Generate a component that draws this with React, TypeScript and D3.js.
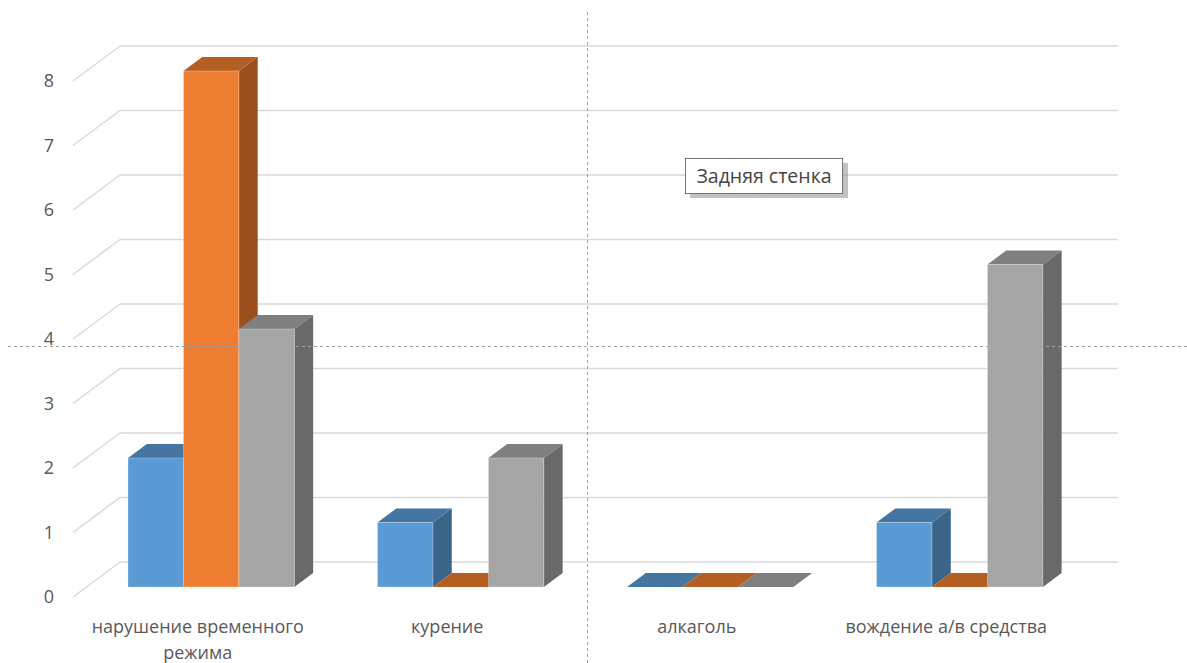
import React from 'react'
import * as d3 from 'd3'

const categories = ['нарушение временного режима', 'курение', 'алкаголь', 'вождение а/в средства']
const labelLines = [['нарушение временного', 'режима'], ['курение'], ['алкаголь'], ['вождение а/в средства']]
const seriesNames = ['s1', 's2', 's3']
const series1 = [2, 1, 0, 1]
const series2 = [8, 0, 0, 0]
const series3 = [4, 2, 0, 5]
const yTicks = [0, 1, 2, 3, 4, 5, 6, 7, 8]

const W = 1187
const H = 663
const depthX = 47
const depthY = 35
const barZ0 = 10 / 35
const barZ1 = 24 / 35
const font = "'Segoe UI', 'Open Sans', 'Noto Sans', sans-serif"

const colors = [
  { front: '#5B9BD5', top: '#4575A1', side: '#3A6488' },
  { front: '#ED7D31', top: '#B55E22', side: '#9A4F1C' },
  { front: '#A5A5A5', top: '#7F7F7F', side: '#696969' },
]

const proj = (x: number, y: number, z: number): [number, number] => [x + z * depthX, y - z * depthY]
const poly = (pts: [number, number][]) => pts.map(p => p.join(',')).join(' ')

export default function App() {
  const values = [series1, series2, series3]
  const x0 = d3.scaleBand<string>().domain(categories).range([73, 1071]).padding(0)
  const bw = x0.bandwidth()
  const gap = (bw * 1.5) / 4.5
  const x1 = d3.scaleBand<string>().domain(seriesNames).range([gap / 2, bw - gap / 2]).padding(0)
  const y = d3.scaleLinear().domain([0, 8]).range([597, 81])

  const bars: JSX.Element[] = []
  categories.forEach((c, ci) => {
    seriesNames.forEach((s, si) => {
      const v = values[si][ci]
      const xl = (x0(c) ?? 0) + (x1(s) ?? 0)
      const xr = xl + x1.bandwidth()
      const yb = y(0)
      const yt = y(v)
      const col = colors[si]
      const key = `${ci}-${si}`
      if (v > 0) {
        bars.push(
          <polygon key={key + 'side'} fill={col.side}
            points={poly([proj(xr, yt, barZ0), proj(xr, yt, barZ1), proj(xr, yb, barZ1), proj(xr, yb, barZ0)])} />
        )
      }
      bars.push(
        <polygon key={key + 'top'} fill={col.top}
          points={poly([proj(xl, yt, barZ0), proj(xl, yt, barZ1), proj(xr, yt, barZ1), proj(xr, yt, barZ0)])} />
      )
      if (v > 0) {
        const [fx, fy] = proj(xl, yt, barZ0)
        const [, fb] = proj(xl, yb, barZ0)
        bars.push(
          <rect key={key + 'front'} x={fx} y={fy} width={xr - xl} height={fb - fy} fill={col.front}
            stroke="#ffffff" strokeOpacity={0.35} strokeWidth={0.8} />
        )
      }
    })
  })

  return (
    <svg width={W} height={H} style={{ position: 'absolute', left: 0, top: 0, background: '#fff' }}>
      <g stroke="#D9D9D9" strokeWidth={1.5} fill="none">
        {yTicks.map(t => {
          const [ax, ay] = proj(73, y(t), 0)
          const [bx, by] = proj(73, y(t), 1)
          return (
            <g key={t}>
              <line x1={ax} y1={ay} x2={bx} y2={by} />
              <line x1={bx} y1={by} x2={1118} y2={by} />
            </g>
          )
        })}
      </g>
      <g fill="#595959" fontFamily={font} fontSize={18} textAnchor="middle">
        {yTicks.map(t => (
          <text key={t} x={49} y={y(t)} dy="0.35em">{t}</text>
        ))}
      </g>
      {bars}
      <g fill="#595959" fontFamily={font} fontSize={18} textAnchor="middle">
        {categories.map((c, i) => (
          <text key={c} x={(x0(c) ?? 0) + bw / 2} y={633}>
            {labelLines[i].map((l, j) => (
              <tspan key={j} x={(x0(c) ?? 0) + bw / 2} dy={j === 0 ? 0 : 26}>{l}</tspan>
            ))}
          </text>
        ))}
      </g>
      <g stroke="#A0A0A0" strokeWidth={1} strokeDasharray="3,3">
        <line x1={587.5} y1={12} x2={587.5} y2={H} />
        <line x1={8} y1={346.5} x2={W} y2={346.5} />
      </g>
      <g>
        <rect x={690} y={163} width={158} height={35} fill="#9a9a9a" opacity={0.6} />
        <rect x={685.5} y={158.5} width={157} height={35} fill="#fff" stroke="#767676" strokeWidth={1} />
        <text x={764} y={176} dy="0.35em" textAnchor="middle" fontFamily={font} fontSize={19.5} fill="#444">Задняя стенка</text>
      </g>
    </svg>
  )
}
